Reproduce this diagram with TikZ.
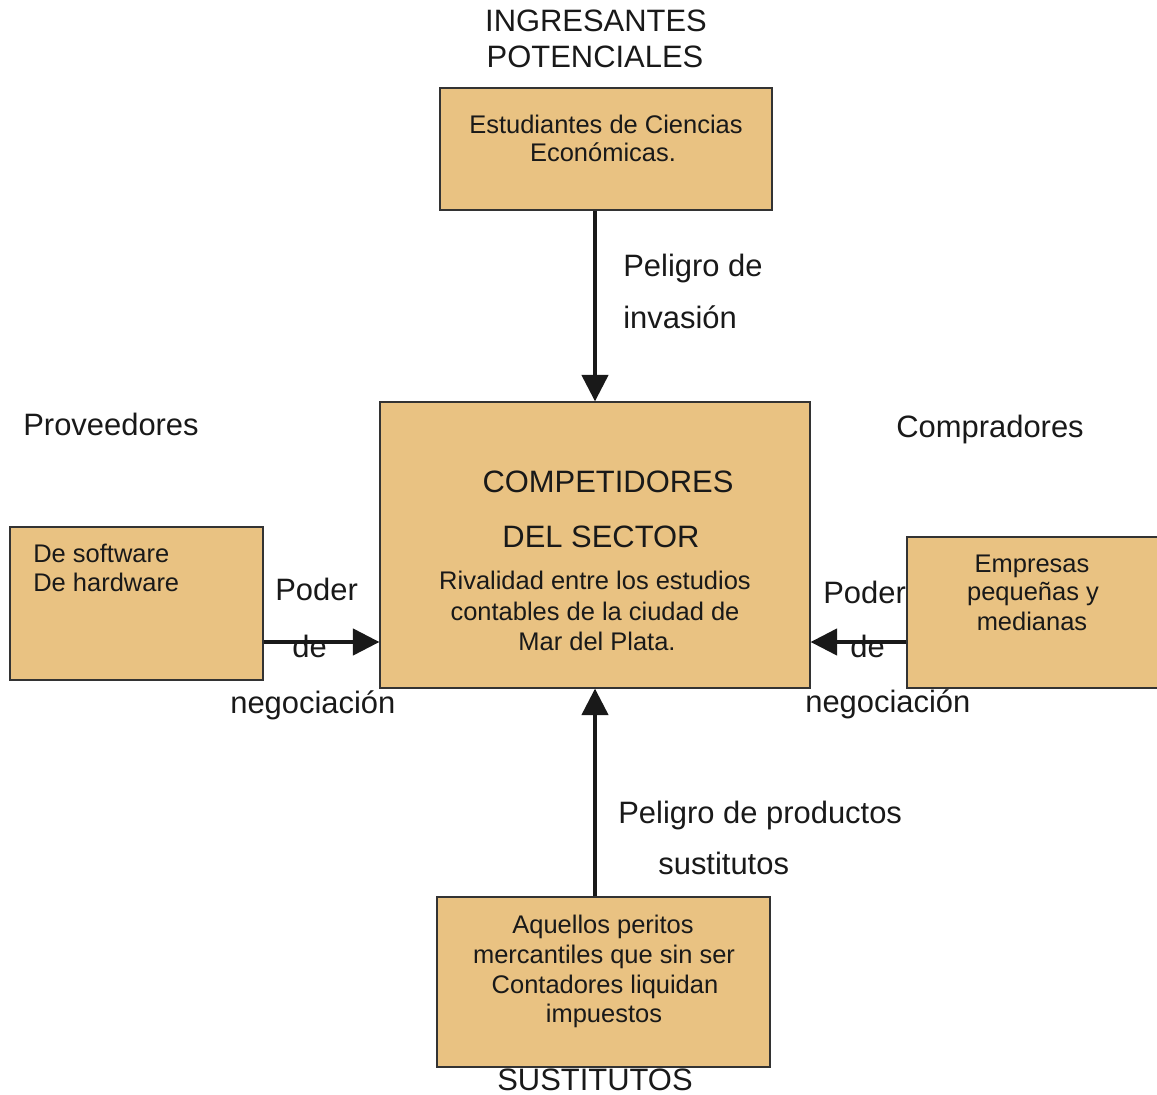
\documentclass[tikz,border=0pt]{standalone}
\usepackage{fontspec}
\setmainfont{Liberation Sans}
\usetikzlibrary{arrows.meta,positioning,calc}
\definecolor{cajafondo}{RGB}{233,194,130}
\begin{document}
\begin{tikzpicture}[x=0.02cm,y=-0.02cm,
caja/.style={draw=black!80,line width=0.8pt,fill=cajafondo},
flecha/.style={line width=1.8pt,black!90,-{Triangle[length=15pt,width=15pt]}},
grande/.style={inner sep=0pt,text=black!90,font=\fontsize{17.6}{21}\selectfont},
chica/.style={inner sep=0pt,text=black!90,font=\fontsize{14.5}{17}\selectfont}]
\useasboundingbox (0,0) rectangle (1157,1095);
\node[caja,minimum width=6.64cm,minimum height=2.44cm] (ingr) at (606,149) {};
\node[caja,minimum width=8.6cm,minimum height=5.72cm] (comp) at (595,545) {};
\node[caja,minimum width=5.06cm,minimum height=3.06cm] (prov) at (136.5,603.5) {};
\node[caja,minimum width=5.36cm,minimum height=3.02cm] (compr) at (1041,612.5) {};
\node[caja,minimum width=6.66cm,minimum height=3.4cm] (sust) at (603.5,982) {};
\coordinate (ny) at (0,642);
\draw[flecha] (ingr.south -| comp.north) -- (comp.north);\draw[flecha] (sust.north -| comp.south) -- (comp.south);
\draw[flecha] (prov.east |- ny) -- (comp.west |- ny);\draw[flecha] (compr.west |- ny) -- (comp.east |- ny);
\node[grande,anchor=base] (t1) at (596,32) {INGRESANTES};\node[grande,anchor=base] (t2) at (595,68) {POTENCIALES};
\node[chica,anchor=base] (t3) at (606,133) {Estudiantes de Ciencias};\node[chica,anchor=base] (t4) at (603,162) {Económicas.};
\node[grande,anchor=base west] (t5) at (623,276) {Peligro de};\node[grande,anchor=base west] (t6) at (623,328) {invasión};
\node[grande,anchor=base west] (t7) at (23,435) {Proveedores};\node[grande,anchor=base west] (t8) at (896,437) {Compradores};
\node[grande,anchor=base] (t9) at (608,492) {COMPETIDORES};\node[grande,anchor=base] (t10) at (601,547) {DEL SECTOR};
\node[chica,anchor=base] (t11) at (595,589) {Rivalidad entre los estudios};\node[chica,anchor=base] (t12) at (595,620) {contables de la ciudad de};
\node[chica,anchor=base] (t13) at (597,650) {Mar del Plata.};
\node[chica,anchor=base west] (t14) at (33,562) {De software};\node[chica,anchor=base west] (t15) at (33,591) {De hardware};
\node[grande,anchor=base west] (t16) at (275,600) {Poder};\node[grande,anchor=base west] (t17) at (292,657) {de};
\node[grande,anchor=base west] (t18) at (230,713) {negociación};
\node[chica,anchor=base] (t19) at (1032,572) {Empresas};\node[chica,anchor=base] (t20) at (1033,600) {pequeñas y};
\node[chica,anchor=base] (t21) at (1032,630) {medianas};
\node[grande,anchor=base west] (t22) at (823,603) {Poder};\node[grande,anchor=base west] (t23) at (850,657) {de};
\node[grande,anchor=base west] (t24) at (805,712) {negociación};
\node[grande,anchor=base west] (t25) at (618,823) {Peligro de productos};\node[grande,anchor=base west] (t26) at (658,874) {sustitutos};
\node[chica,anchor=base] (t27) at (603,933) {Aquellos peritos};\node[chica,anchor=base] (t28) at (604,963) {mercantiles que sin ser};
\node[chica,anchor=base] (t29) at (605,993) {Contadores liquidan};\node[chica,anchor=base] (t30) at (604,1022) {impuestos};
\node[grande,anchor=base] (t31) at (595,1090) {SUSTITUTOS};
\end{tikzpicture}
\end{document}
